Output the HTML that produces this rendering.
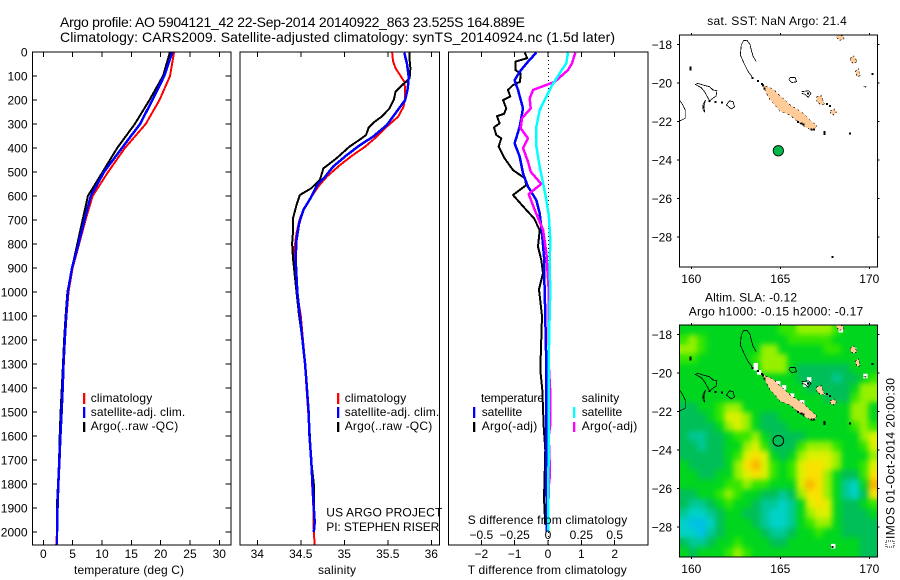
<!DOCTYPE html>
<html lang="en">
<head>
<meta charset="utf-8">
<title>Argo profile 5904121_42</title>
<style>
html,body{margin:0;padding:0;background:#fff;}
svg{display:block;font-family:"Liberation Sans",sans-serif;font-size:12px;fill:#000;}
text{fill:#000;}
</style>
</head>
<body>
<svg id="chart" xmlns="http://www.w3.org/2000/svg" width="900" height="580" viewBox="0 0 900 580">
<defs>
<clipPath id="clip1"><rect x="32.5" y="52" width="198.5" height="493"/></clipPath>
<clipPath id="clip2"><rect x="240" y="52" width="199.5" height="493"/></clipPath>
<clipPath id="clip3"><rect x="448.5" y="52" width="199.5" height="493"/></clipPath>
<clipPath id="clipM1"><rect x="679.3" y="35" width="198" height="232"/></clipPath>
<clipPath id="clipM2"><rect x="679.3" y="325" width="198" height="232"/></clipPath>
<filter id="smooth" x="0" y="0" width="100%" height="100%" color-interpolation-filters="sRGB">
<feGaussianBlur in="SourceGraphic" stdDeviation="3" result="b"/>
<feMerge><feMergeNode in="SourceGraphic"/><feMergeNode in="b"/></feMerge>
</filter>
</defs>

<text x="60" y="27" font-size="14" textLength="465">Argo profile: AO 5904121_42 22-Sep-2014 20140922_863 23.525S 164.889E</text>
<text x="60" y="42" font-size="14" textLength="555">Climatology: CARS2009. Satellite-adjusted climatology: synTS_20140924.nc (1.5d later)</text>

<g id="p1"></g>
<g id="p2"></g>
<g id="p3"></g>
<g id="m1"></g>
<g id="m2"></g>

<text x="74" y="574" textLength="110">temperature (deg C)</text>
<text x="318" y="574" textLength="38">salinity</text>
<text x="467.7" y="574" textLength="159">T difference from climatology</text>
<text x="467.7" y="524" textLength="159.5">S difference from climatology</text>

<g>
<rect x="83" y="393" width="2.3" height="11" fill="#f00"/>
<rect x="83" y="407" width="2.3" height="11" fill="#00f"/>
<rect x="83" y="422" width="2.3" height="10" fill="#000"/>
<text x="90.7" y="402" textLength="61.5">climatology</text>
<text x="90.7" y="416" textLength="94.5">satellite-adj. clim.</text>
<text x="90.7" y="430" textLength="87.5">Argo(..raw -QC)</text>
</g>
<g>
<rect x="337" y="393" width="2.3" height="11" fill="#f00"/>
<rect x="337" y="407" width="2.3" height="11" fill="#00f"/>
<rect x="337" y="422" width="2.3" height="10" fill="#000"/>
<text x="344.7" y="402" textLength="61.5">climatology</text>
<text x="344.7" y="416" textLength="94.5">satellite-adj. clim.</text>
<text x="344.7" y="430" textLength="87.5">Argo(..raw -QC)</text>
</g>
<g>
<text x="481" y="402" textLength="63">temperature</text>
<rect x="473" y="407" width="2.3" height="11" fill="#00f"/>
<rect x="473" y="422" width="2.3" height="10" fill="#000"/>
<text x="481.7" y="416" textLength="40.5">satellite</text>
<text x="481.7" y="430" textLength="55.5">Argo(-adj)</text>
<text x="581.7" y="402" textLength="37.5">salinity</text>
<rect x="573" y="407" width="2.3" height="11" fill="#0ff"/>
<rect x="573" y="422" width="2.3" height="10" fill="#f0f"/>
<text x="581.7" y="416" textLength="40.5">satellite</text>
<text x="581.7" y="430" textLength="55.5">Argo(-adj)</text>
</g>
<text x="326.3" y="516.5" textLength="116">US ARGO PROJECT</text>
<text x="326.3" y="531" textLength="113">PI: STEPHEN RISER</text>

<text x="707.3" y="25" textLength="139.5">sat. SST: NaN Argo: 21.4</text>
<text x="705" y="301.5" textLength="92">Altim. SLA: -0.12</text>
<text x="688.7" y="315.5" textLength="174.5">Argo h1000: -0.15 h2000: -0.17</text>
<rect x="886" y="541" width="8" height="6" fill="#fff" stroke="#000" stroke-width="1" stroke-dasharray="1 1"/>
<text transform="translate(894.5,539) rotate(-90)" textLength="161">IMOS 01-Oct-2014 20:00:30</text>
</svg>

<script>
// ---- profile data: depth (m) and value pairs ----
const depthTicks = [0,100,200,300,400,500,600,700,800,900,1000,1100,1200,1300,1400,1500,1600,1700,1800,1900,2000];
const tempTicks = [0,5,10,15,20,25,30];
const salTicks = [34,34.5,35,35.5,36];
const tDiffTicks = [-2,-1,0,1,2];
const sDiffTicks = [-0.5,-0.25,0,0.25,0.5];
const lonTicks = [160,165,170];
const latTicks = [-18,-20,-22,-24,-26,-28];

const tempDepth = [0,100,200,300,400,500,600,700,800,900,1000,1100,1200,1300,1400,1500,1600,1700,1800,1900,2000,2054];
const tempClim = [22.3,21.6,19.8,17.45,13.9,11.05,8.4,7.2,6.1,5.0,4.3,3.95,3.7,3.5,3.25,3.07,2.95,2.8,2.6,2.42,2.33,2.2];
const tempSat = [22.0,20.6,18.6,16.5,13.4,10.35,8.1,7.0,6.0,4.9,4.2,3.9,3.65,3.45,3.3,3.12,2.92,2.75,2.56,2.42,2.33,2.33];
const tempArgo = [21.6,20.4,18.1,15.6,12.6,10.1,7.6,6.7,5.8,4.9,4.1,3.8,3.55,3.35,3.15,2.95,2.8,2.7,2.5,2.3,2.3,2.3];

const salClimDepth = [0,38,68,96,124,158,193,228,269,311,360,394,429,471,519,561,610,644,693,755,811,860,900,1000,1100,1200,1300,1400,1500,1600,1700,1800,1900,2000,2054];
const salClim = [35.55,35.56,35.59,35.64,35.69,35.70,35.70,35.68,35.62,35.49,35.35,35.24,35.10,34.95,34.80,34.70,34.61,34.55,34.49,34.45,34.43,34.43,34.43,34.455,34.5,34.525,34.55,34.565,34.585,34.60,34.62,34.63,34.645,34.65,34.66];
const salSatDepth = [3,47,103,151,200,249,304,353,388,429,478,519,554,610,658,714,783,860,1000,1100,1200,1300,1400,1500,1600,1700,1800,1900,1960,2000];
const salSat = [35.69,35.72,35.74,35.73,35.70,35.60,35.49,35.33,35.18,35.03,34.87,34.78,34.69,34.61,34.53,34.48,34.45,34.44,34.46,34.49,34.52,34.55,34.57,34.59,34.60,34.62,34.635,34.65,34.66,34.65];
const salArgoDepth = [3,33,68,110,133,165,197,235,269,290,314,346,367,394,443,485,533,568,596,638,693,749,797,860,1000,1100,1200,1300,1500,1700,1800,1950];
const salArgo = [35.75,35.75,35.76,35.75,35.68,35.59,35.57,35.52,35.43,35.35,35.28,35.25,35.17,35.06,34.91,34.76,34.72,34.62,34.49,34.45,34.41,34.41,34.40,34.41,34.45,34.48,34.52,34.55,34.59,34.62,34.65,34.65];

const diffTArgoDepth = [3,26,40,75,89,124,138,158,186,200,235,258,267,297,314,346,360,394,443,492,526,554,596,651,693,742,811,867,922,989,1100,1325,1408,1561,1658,1756,1860,1971];
const diffTArgo = [-0.70,-0.62,-0.98,-0.98,-0.82,-0.84,-1.05,-1.20,-1.13,-1.35,-1.25,-1.32,-1.53,-1.45,-1.62,-1.55,-1.40,-1.48,-1.30,-1.05,-0.70,-0.65,-1.05,-0.70,-0.42,-0.25,-0.30,-0.20,-0.15,-0.27,-0.18,-0.23,-0.17,-0.13,-0.08,-0.10,-0.12,-0.08];
const diffTSatDepth = [3,40,82,117,158,235,311,381,436,506,561,617,672,756,853,922,989,1300,1500,1700,2000];
const diffTSat = [-0.35,-0.60,-0.85,-1.00,-0.90,-0.75,-0.85,-1.00,-0.85,-0.75,-0.60,-0.35,-0.25,-0.18,-0.12,-0.12,-0.10,-0.05,-0.05,-0.05,-0.04];
const diffSSatDepth = [3,47,89,144,186,242,311,394,478,547,617,686,783,894,989,1100,1200,1300,1450,1600,1800,2000];
const diffSSat = [0.15,0.137,0.087,0.025,-0.012,-0.062,-0.087,-0.087,-0.062,-0.037,-0.012,0.007,0.017,0.012,0.017,0.012,0.008,0.005,0.005,0.005,0.003,0.0];
const diffSArgoDepth = [3,47,75,124,158,193,235,276,318,360,401,457,499,550,592,658,742,839,989,1100,1200,1300,1400,1560,1600,1760,1810,1990];
const diffSArgo = [0.205,0.18,0.15,0.05,-0.112,-0.137,-0.13,-0.195,-0.205,-0.15,-0.187,-0.15,-0.13,-0.05,-0.145,-0.10,-0.037,-0.012,0.005,0.006,0.005,0.005,0.015,0.015,0.005,0.015,0.005,0.0];

// ---- SLA heatmap: colour class per 0.5 degree cell, north to south ----
const slaRows = [
"4444444444455666654444",
"5654444444445555544444",
"6654444446644444554444",
"5544444456664444444444",
"4444444446664333333444",
"4444444444444333323345",
"4444444444444433333466",
"4444444444444444333566",
"3344566444444444444664",
"3334577643344444444664",
"3333467643334444444565",
"3223345564333344444467",
"3323344675333566654457",
"3333345787434677764446",
"4333346897545788764457",
"4433446787545788643358",
"4444455655444798642149",
"3344565443323688642138",
"3223454432212478743345",
"2112344332112467743334",
"1001344432112456643333",
"1102344443223445443333",
"3223445444334444444433",
"4344456544444444444433"
];
const slaColors = ["#00c0e6","#00d2c8","#00c896","#00bf58","#00d61e","#32e600","#96f000","#dcf000","#fae100","#fab400"];

// ---- coastlines as lon/lat rings ----
const reefLon = [163.41,163.18,162.99,162.75,162.81,162.94,163.13,163.30,163.37,163.48,163.65];
const reefLat = [-19.68,-19.39,-19.04,-18.56,-18.04,-17.81,-17.79,-18.0,-18.30,-18.64,-18.90];
const outlineShapes = [
 {lon:[160.22,160.37,160.65,161.03,161.22,161.44,161.40,161.22,161.03,160.90,160.75,160.56,160.22],lat:[-20.08,-20.03,-20.11,-20.2,-20.37,-20.41,-20.67,-20.80,-20.93,-20.72,-20.46,-20.25,-20.08]},
 {lon:[160.79,160.65,160.67,160.75,160.71,160.79],lat:[-20.89,-21.15,-21.41,-21.5,-21.24,-20.89]},
 {lon:[161.97,162.15,162.34,162.43,162.25,161.97],lat:[-21.15,-20.93,-20.98,-21.24,-21.36,-21.15]},
 {lon:[159.34,159.53,159.66,159.66,159.40,159.25],lat:[-20.89,-21.15,-21.41,-21.84,-21.96,-21.93]},
 {lon:[165.55,165.83,165.92,165.64,165.49,165.55],lat:[-19.73,-19.73,-19.94,-19.99,-19.85,-19.73]},
 {lon:[166.2,166.58,166.73,166.58,166.39,166.2],lat:[-20.46,-20.41,-20.54,-20.75,-20.6,-20.54]},
 {lon:reefLon,lat:reefLat}
];
const mainIslandLon = [163.95,164.23,164.52,164.76,164.98,165.26,165.55,165.92,166.29,166.67,167.04,166.95,166.76,166.39,166.01,165.55,164.98,164.70,164.42,164.20,163.95];
const mainIslandLat = [-20.03,-20.2,-20.29,-20.46,-20.67,-20.89,-21.15,-21.36,-21.58,-21.93,-22.22,-22.42,-22.47,-22.28,-22.03,-21.68,-21.46,-21.16,-20.88,-20.5,-20.03];
const smallIslands = [
 {lon:[168.17,168.50,168.58,168.35,168.17],lat:[-17.52,-17.55,-17.72,-17.79,-17.66]},
 {lon:[168.92,169.10,169.33,169.10,168.95],lat:[-18.73,-18.59,-18.9,-18.99,-18.87]},
 {lon:[169.20,169.38,169.48,169.33],lat:[-19.42,-19.25,-19.63,-19.68]},
 {lon:[169.67,169.85,169.76],lat:[-20.2,-20.15,-20.25]},
 {lon:[167.04,167.32,167.42,167.51,167.23,167.04],lat:[-20.72,-20.67,-20.98,-21.15,-21.12,-20.94]},
 {lon:[167.79,168.02,168.17,167.98,167.83],lat:[-21.46,-21.36,-21.53,-21.67,-21.6]}
];
const blackSpotLon = [159.96,159.96,161.03,161.35,161.72,163.75,163.98,164.02,164.1,166.0,166.2,166.3,166.76,166.9,167.47,167.47,168.92,170.17,167.94,167.79,167.63,163.45,166.55];
const blackSpotLat = [-19.21,-19.3,-20.93,-21.0,-21.03,-19.9,-20.05,-20.15,-20.3,-22.03,-22.1,-22.15,-22.42,-22.42,-22.55,-22.65,-22.62,-19.54,-29.05,-21.2,-21.1,-19.75,-20.55];
const whiteCellLon = [163.61,163.61,163.8,166.61,166.4,165.2,165.65,166.22,169.14,169.77,167.96,164.87,168.39];
const whiteCellLat = [-19.6,-19.75,-19.97,-20.34,-20.6,-20.75,-21.18,-21.53,-18.81,-20.16,-28.99,-20.54,-17.78];
const floatLon = 164.889;
const floatLat = -23.525;

// ---- axis functions ----
const yDepth = d => 52 + 0.24 * d;
const xTemp = v => 43.3 + 5.867 * v;
const xSal = v => 257.3 + 87 * (v - 34);
const xTDiff = v => 548 + 33.35 * v;
const xSDiff = v => 548 + 133.4 * v;
const xLon = v => 691.3 + 17.8 * (v - 160);
const yLat = (v, top) => top + 9.3 + 19.27 * (-18 - v);
const fmt = v => String(v).replace('-', '\u2212');

const SVGNS = 'http://www.w3.org/2000/svg';
function mk(parent, tag, attrs) {
  const el = document.createElementNS(SVGNS, tag);
  for (const k in attrs) el.setAttribute(k, attrs[k]);
  parent.appendChild(el);
  return el;
}
function tick(parent, x1, y1, x2, y2) {
  const el = mk(parent, 'line', {x1, y1, x2, y2, stroke: '#000', 'stroke-width': 1, 'shape-rendering': 'crispEdges'});
  
  
}
function label(parent, x, y, anchor, str) {
  const el = mk(parent, 'text', {x, y, 'text-anchor': anchor});
  el.textContent = str;
  
  
}
function frame(parent, x, y, w, h) {
  const el = mk(parent, 'rect', {x, y, width: w, height: h, fill: 'none', stroke: '#000', 'stroke-width': 1, 'shape-rendering': 'crispEdges'});
  
  
}
function profile(parent, clip, depth, vals, xf, color, name, width) {
  const pts = depth.map((d, i) => xf(vals[i]).toFixed(1) + ',' + yDepth(d).toFixed(1)).join(' ');
  const el = mk(parent, 'polyline', {points: pts, fill: 'none', stroke: color, 'stroke-width': width, 'clip-path': 'url(#' + clip + ')', 'shape-rendering': 'crispEdges', 'stroke-linejoin': 'round'});
  
  
}
function xTicks(parent, vals, xf, top, bottom, labelY) {
  vals.forEach(v => {
    tick(parent, xf(v), top, xf(v), top + 5);
    tick(parent, xf(v), bottom, xf(v), bottom - 5);
    if (labelY) label(parent, xf(v), labelY, 'middle', fmt(v));
  });
}

// ---- temperature panel ----
const p1 = document.getElementById('p1');
profile(p1, 'clip1', tempDepth, tempClim, xTemp, '#f00', 'temperature-climatology-line', 2);
profile(p1, 'clip1', tempDepth, tempArgo, xTemp, '#000', 'temperature-argo-line', 2);
profile(p1, 'clip1', tempDepth, tempSat, xTemp, '#00f', 'temperature-satellite-line', 2.5);
frame(p1, 32.5, 52, 198.5, 493);
xTicks(p1, tempTicks, xTemp, 52, 545, 558);
depthTicks.forEach(d => {
  tick(p1, 32.5, yDepth(d), 37, yDepth(d));
  tick(p1, 231, yDepth(d), 225.5, yDepth(d));
  label(p1, 27.5, yDepth(d) + 4.5, 'end', String(d));
});

// ---- salinity panel ----
const p2 = document.getElementById('p2');
profile(p2, 'clip2', salClimDepth, salClim, xSal, '#f00', 'salinity-climatology-line', 2);
profile(p2, 'clip2', salArgoDepth, salArgo, xSal, '#000', 'salinity-argo-line', 2);
profile(p2, 'clip2', salSatDepth, salSat, xSal, '#00f', 'salinity-satellite-line', 2.5);
frame(p2, 240, 52, 199.5, 493);
xTicks(p2, salTicks, xSal, 52, 545, 558);

// ---- difference panel ----
const p3 = document.getElementById('p3');
const zeroLine = mk(p3, 'line', {x1: 548.5, y1: 52, x2: 548.5, y2: 545, stroke: '#000', 'stroke-width': 1, 'stroke-dasharray': '1 3', 'shape-rendering': 'crispEdges'});


profile(p3, 'clip3', diffTArgoDepth, diffTArgo, xTDiff, '#000', 't-diff-argo-line', 2);
profile(p3, 'clip3', diffTSatDepth, diffTSat, xTDiff, '#00f', 't-diff-satellite-line', 2.5);
profile(p3, 'clip3', diffSArgoDepth, diffSArgo, xSDiff, '#f0f', 's-diff-argo-line', 2.5);
profile(p3, 'clip3', diffSSatDepth, diffSSat, xSDiff, '#0ff', 's-diff-satellite-line', 2.5);
frame(p3, 448.5, 52, 199.5, 493);
xTicks(p3, tDiffTicks, xTDiff, 52, 545, 558);
sDiffTicks.forEach(v => label(p3, xSDiff(v), 539, 'middle', fmt(v)));

// ---- maps ----
function ringPts(lon, lat, top) {
  return lon.map((v, i) => xLon(v).toFixed(1) + ',' + yLat(lat[i], top).toFixed(1)).join(' ');
}
function drawCoast(g, top, clip) {
  const c = mk(g, 'g', {'clip-path': 'url(#' + clip + ')', 'shape-rendering': 'crispEdges'});
  
  
  outlineShapes.forEach(s => {
    const el = mk(c, 'polyline', {points: ringPts(s.lon, s.lat, top), fill: 'none', stroke: '#000', 'stroke-width': 0.8});
    
    
  });
  const main = mk(c, 'polygon', {points: ringPts(mainIslandLon, mainIslandLat, top), fill: '#ffcc99', stroke: '#000', 'stroke-width': 0.6, 'stroke-dasharray': '2 3'});
  
  
  smallIslands.forEach(s => {
    const el = mk(c, 'polygon', {points: ringPts(s.lon, s.lat, top), fill: '#ffcc99', stroke: '#000', 'stroke-width': 0.6, 'stroke-dasharray': '2 2'});
    
    
  });
  blackSpotLon.forEach((v, i) => {
    const el = mk(c, 'rect', {x: xLon(v) - 1, y: yLat(blackSpotLat[i], top) - 1, width: 2, height: 2, fill: '#000'});
    
    
  });
}
function mapAxes(g, top, bottom) {
  frame(g, 679.3, top, 198, bottom - top);
  lonTicks.forEach(v => {
    tick(g, xLon(v), top, xLon(v), top - 2);
    tick(g, xLon(v), bottom, xLon(v), bottom + 2);
    label(g, xLon(v), bottom + 16, 'middle', String(v));
  });
  latTicks.forEach(v => {
    tick(g, 679.3, yLat(v, top), 677, yLat(v, top));
    tick(g, 877.3, yLat(v, top), 879.5, yLat(v, top));
    label(g, 672, yLat(v, top) + 4.5, 'end', fmt(v));
  });
}

// SST map
const m1 = document.getElementById('m1');
drawCoast(m1, 35, 'clipM1');
const ring1 = mk(m1, 'circle', {cx: xLon(floatLon), cy: yLat(floatLat, 35), r: 5.2, fill: '#00b84a', stroke: '#000', 'stroke-width': 0.8});


mapAxes(m1, 35, 267);

// SLA map
const m2 = document.getElementById('m2');
const heatClip = mk(m2, 'g', {'clip-path': 'url(#clipM2)'});


const heat = mk(heatClip, 'g', {filter: 'url(#smooth)'});


const lonEdge = c => 159.326 + c * (11.124 / slaRows[0].length);
const latEdge = r => -17.517 - r * (12.04 / slaRows.length);
slaRows.forEach((row, r) => {
  row.split('').forEach((ch, c) => {
    const x0 = xLon(lonEdge(c)), x1 = xLon(lonEdge(c + 1));
    const y0 = yLat(latEdge(r), 325), y1 = yLat(latEdge(r + 1), 325);
    const cell = mk(heat, 'rect', {x: x0, y: y0, width: x1 - x0 + 0.5, height: y1 - y0 + 0.5, fill: slaColors[+ch]});
    
    
  });
});
whiteCellLon.forEach((v, i) => {
  const w = mk(heatClip, 'rect', {x: xLon(v) - 2, y: yLat(whiteCellLat[i], 325) - 2.2, width: 4.4, height: 4.6, fill: '#fff'});
  
  
});
drawCoast(m2, 325, 'clipM2');
const ring2 = mk(m2, 'circle', {cx: xLon(floatLon), cy: yLat(floatLat, 325), r: 5.3, fill: 'none', stroke: '#000', 'stroke-width': 1});


mapAxes(m2, 325, 557);
</script>
</body>
</html>
